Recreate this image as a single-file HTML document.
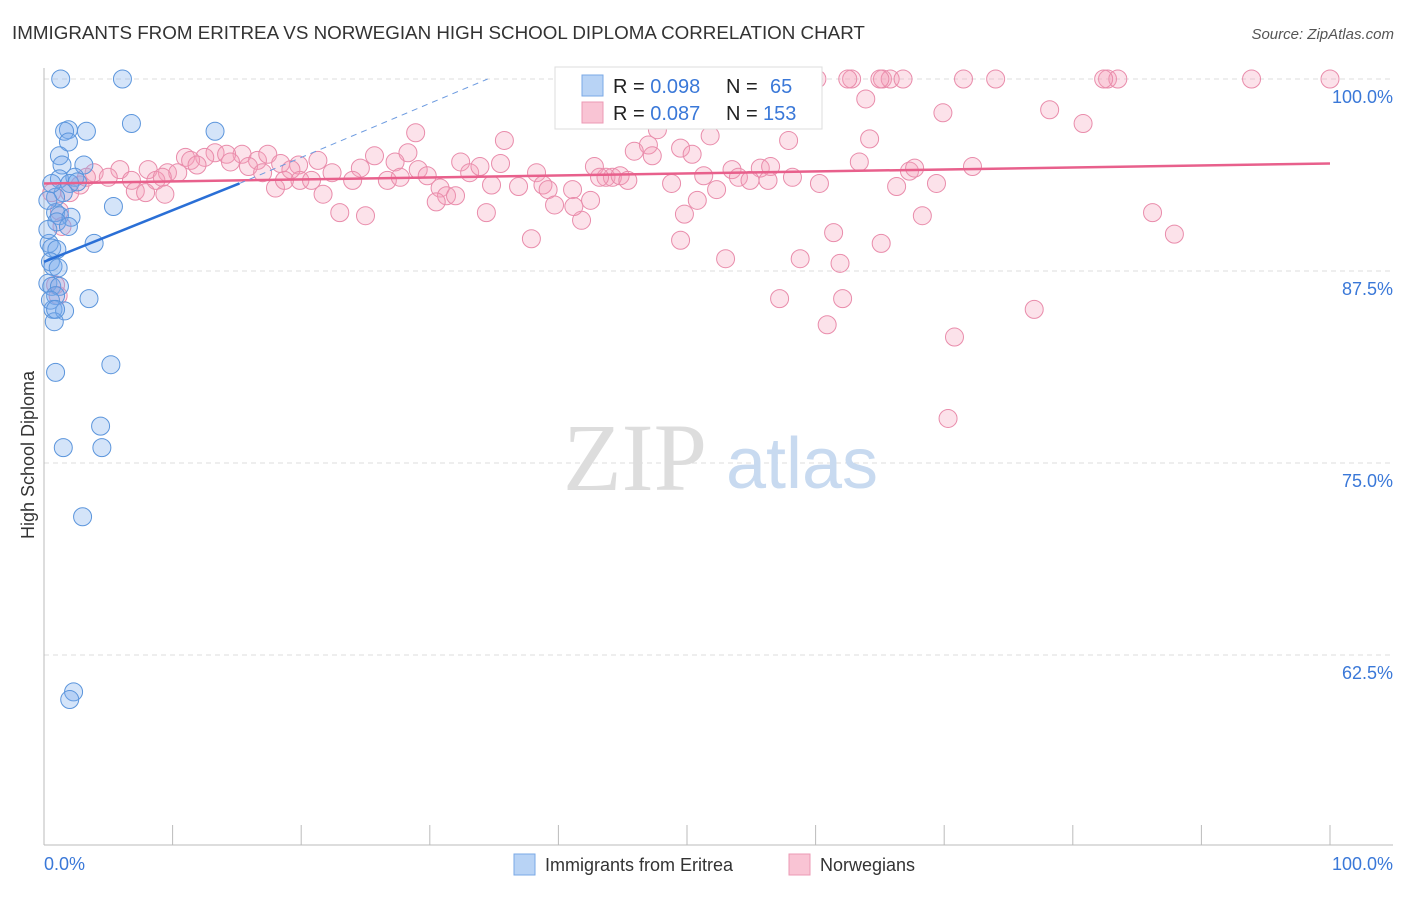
<!DOCTYPE html>
<html><head><meta charset="utf-8"><style>
body{margin:0;background:#fff;font-family:"Liberation Sans",sans-serif;}
</style></head><body>
<svg width="1406" height="892" viewBox="0 0 1406 892" xmlns="http://www.w3.org/2000/svg">
<text x="12" y="39" font-size="18.8" fill="#333">IMMIGRANTS FROM ERITREA VS NORWEGIAN HIGH SCHOOL DIPLOMA CORRELATION CHART</text>
<text x="1394" y="39" font-size="15" fill="#555" text-anchor="end" font-style="italic">Source: ZipAtlas.com</text>
<g id="grid"></g>
<g>
<text x="635" y="490" font-size="96" font-family="Liberation Serif,serif" fill="#ddd" text-anchor="middle">ZIP</text>
<text x="802" y="488" font-size="72" fill="#c8daf0" text-anchor="middle">atlas</text>
</g>
<line x1="44" y1="68" x2="44" y2="845" stroke="#bbb"/>
<line x1="44" y1="845" x2="1393" y2="845" stroke="#bbb"/>
<g id="xticks"></g>
<g id="ylabels"></g>
<text x="44" y="870" font-size="18" fill="#3a78d8">0.0%</text>
<text x="1393" y="870" font-size="18" fill="#3a78d8" text-anchor="end">100.0%</text>
<text transform="translate(34,455) rotate(-90)" font-size="18" fill="#333" text-anchor="middle">High School Diploma</text>
<g id="pink"></g>
<g id="blue"></g>
<g id="trends"></g>
<g>
<rect x="555" y="67" width="267" height="62" fill="#fff" stroke="#ddd"/>
<rect x="582" y="75" width="21" height="21" fill="#b8d3f5" stroke="#7aa8e6"/>
<rect x="582" y="102" width="21" height="21" fill="#f9c4d4" stroke="#ec9ab4"/>
<text x="613" y="93" font-size="20" fill="#222">R = <tspan fill="#3a78d8">0.098</tspan><tspan x="726">N =</tspan><tspan x="770" fill="#3a78d8">65</tspan></text>
<text x="613" y="120" font-size="20" fill="#222">R = <tspan fill="#3a78d8">0.087</tspan><tspan x="726">N =</tspan><tspan x="763" fill="#3a78d8">153</tspan></text>
</g>
<g>
<rect x="514" y="854" width="21" height="21" fill="#b8d3f5" stroke="#7aa8e6"/>
<text x="545" y="871" font-size="18" fill="#333">Immigrants from Eritrea</text>
<rect x="789" y="854" width="21" height="21" fill="#f9c4d4" stroke="#ec9ab4"/>
<text x="820" y="871" font-size="18" fill="#333">Norwegians</text>
</g>
</svg>
<script>
const yTicks=[100,87.5,75,62.5];
const yTickLabels=["100.0%","87.5%","75.0%","62.5%"];
const blueX=[1.3,6.1,1.9,3.3,1.6,6.8,13.3,1.9,1.2,1.4,3.1,1.2,2.4,2.0,1.5,0.9,5.4,0.9,1.2,2.1,1.0,1.9,3.9,0.4,0.6,1.0,0.5,0.7,1.1,0.3,0.6,1.2,0.9,3.5,0.7,1.6,0.8,0.9,5.2,4.4,1.5,4.5,3.0,2.3,2.0,0.3,0.3,0.5,0.6,2.6,0.9];
const blueY=[100,100,96.7,96.6,96.6,97.1,96.6,95.9,95.0,94.4,94.4,93.5,93.6,93.2,92.6,92.3,91.7,91.3,91.1,91.0,90.7,90.4,89.3,89.3,89.0,88.9,88.1,87.8,87.7,86.7,86.5,86.5,85.9,85.7,85.0,84.9,84.2,80.9,81.4,77.4,76.0,76.0,71.5,60.1,59.6,92.1,90.2,85.6,93.2,93.3,85.0];
const pinkX=[60.1,62.8,62.5,65.2,65.8,66.8,71.5,74.0,82.7,83.5,93.9,100,82.4,65.0,63.9,69.9,78.2,80.8,28.9,47.7,35.8,51.8,57.9,64.2,47.0,49.5,45.9,50.4,47.3,11.0,13.3,15.4,16.6,17.4,14.2,12.5,11.4,21.3,25.7,28.3,32.4,35.5,18.4,19.8,11.9,14.5,15.9,5.9,8.1,9.6,10.4,3.9,5.0,6.8,8.7,9.2,17.0,19.2,22.4,24.6,27.3,29.1,29.8,33.1,33.9,38.3,42.8,43.7,44.2,44.8,45.4,43.2,53.5,54.0,55.7,56.5,58.2,63.4,67.3,67.7,72.2,51.3,48.8,52.3,60.3,66.3,69.4,2.8,3.3,7.1,7.9,9.4,18.0,19.9,18.7,20.8,21.7,24.0,26.7,27.7,30.8,31.3,30.5,32.0,34.8,36.9,38.8,39.2,39.7,41.1,41.8,41.2,42.5,49.8,50.8,54.9,56.3,23.0,25.0,34.4,37.9,68.3,86.2,87.9,49.5,61.4,65.1,53.0,58.8,61.9,57.2,62.1,77.0,60.9,70.8,70.3,1.2,1.4,1.1,0.9,0.6,2.0];
const pinkY=[100,100,100,100,100,100,100,100,100,100,100,100,100,100,98.7,97.8,98.0,97.1,96.5,96.7,96.0,96.3,96.0,96.1,95.7,95.5,95.3,95.1,95.0,94.9,95.2,95.1,94.7,95.1,95.1,94.9,94.7,94.7,95.0,95.2,94.6,94.5,94.5,94.4,94.4,94.6,94.3,94.1,94.1,93.9,93.9,93.9,93.6,93.4,93.4,93.6,93.9,94.1,93.9,94.2,94.6,94.1,93.7,93.9,94.3,93.9,94.3,93.6,93.6,93.7,93.4,93.6,94.1,93.6,94.2,94.3,93.6,94.6,94.0,94.2,94.3,93.7,93.2,92.8,93.2,93.0,93.2,93.1,93.6,92.7,92.6,92.5,92.9,93.4,93.4,93.4,92.5,93.4,93.4,93.6,92.9,92.4,92.0,92.4,93.1,93.0,93.1,92.8,91.8,92.8,90.8,91.7,92.1,91.2,92.1,93.4,93.4,91.3,91.1,91.3,89.6,91.1,91.3,89.9,89.5,90.0,89.3,88.3,88.3,88.0,85.7,85.7,85.0,84.0,83.2,77.9,91.4,90.4,85.9,86.6,92.6,92.6];
const blueTrend=[0,88.1,15.2,93.2,34.5,100];
const pinkTrend=[0,93.2,100,94.5];
const NS="http://www.w3.org/2000/svg";
function sx(v){return 44+v*12.86;}
function sy(v){return 79+(100-v)*15.36;}
function mk(tag,attrs,parent){const e=document.createElementNS(NS,tag);for(const k in attrs)e.setAttribute(k,attrs[k]);parent.appendChild(e);return e;}
const grid=document.getElementById('grid'),yl=document.getElementById('ylabels'),xt=document.getElementById('xticks');
yTicks.forEach((t,i)=>{
 const l=mk('line',{x1:44,x2:1393,y1:sy(t),y2:sy(t),stroke:'#ddd','stroke-dasharray':'5,4'},grid);
 
 
 const tx=mk('text',{x:1393,y:sy(t)+24,'font-size':18,fill:'#3a78d8','text-anchor':'end'},yl);
 tx.textContent=yTickLabels[i];
 
 
});
for(let i=0;i<=10;i++){
 const l=mk('line',{x1:sx(i*10),x2:sx(i*10),y1:825,y2:845,stroke:'#bbb'},xt);
 
 
}
const pg=document.getElementById('pink');
pinkX.forEach((x,i)=>{
 const c=mk('circle',{cx:sx(x),cy:sy(pinkY[i]),r:9,fill:'rgba(244,160,186,0.3)',stroke:'#e98cab','stroke-width':1},pg);
 
 
});
const bg=document.getElementById('blue');
blueX.forEach((x,i)=>{
 const c=mk('circle',{cx:sx(x),cy:sy(blueY[i]),r:9,fill:'rgba(120,170,235,0.32)',stroke:'#5b95dc','stroke-width':1},bg);
 
 
});
const tg=document.getElementById('trends');
const pl=mk('line',{x1:sx(pinkTrend[0]),y1:sy(pinkTrend[1]),x2:sx(pinkTrend[2]),y2:sy(pinkTrend[3]),stroke:'#e8608c','stroke-width':2.5},tg);


const bl=mk('line',{x1:sx(blueTrend[0]),y1:sy(blueTrend[1]),x2:sx(blueTrend[2]),y2:sy(blueTrend[3]),stroke:'#2a6fd6','stroke-width':2.5},tg);


const bd=mk('line',{x1:sx(blueTrend[2]),y1:sy(blueTrend[3]),x2:sx(blueTrend[4]),y2:sy(blueTrend[5]),stroke:'#6d9be0','stroke-width':1,'stroke-dasharray':'6,5'},tg);


</script>
</body></html>
